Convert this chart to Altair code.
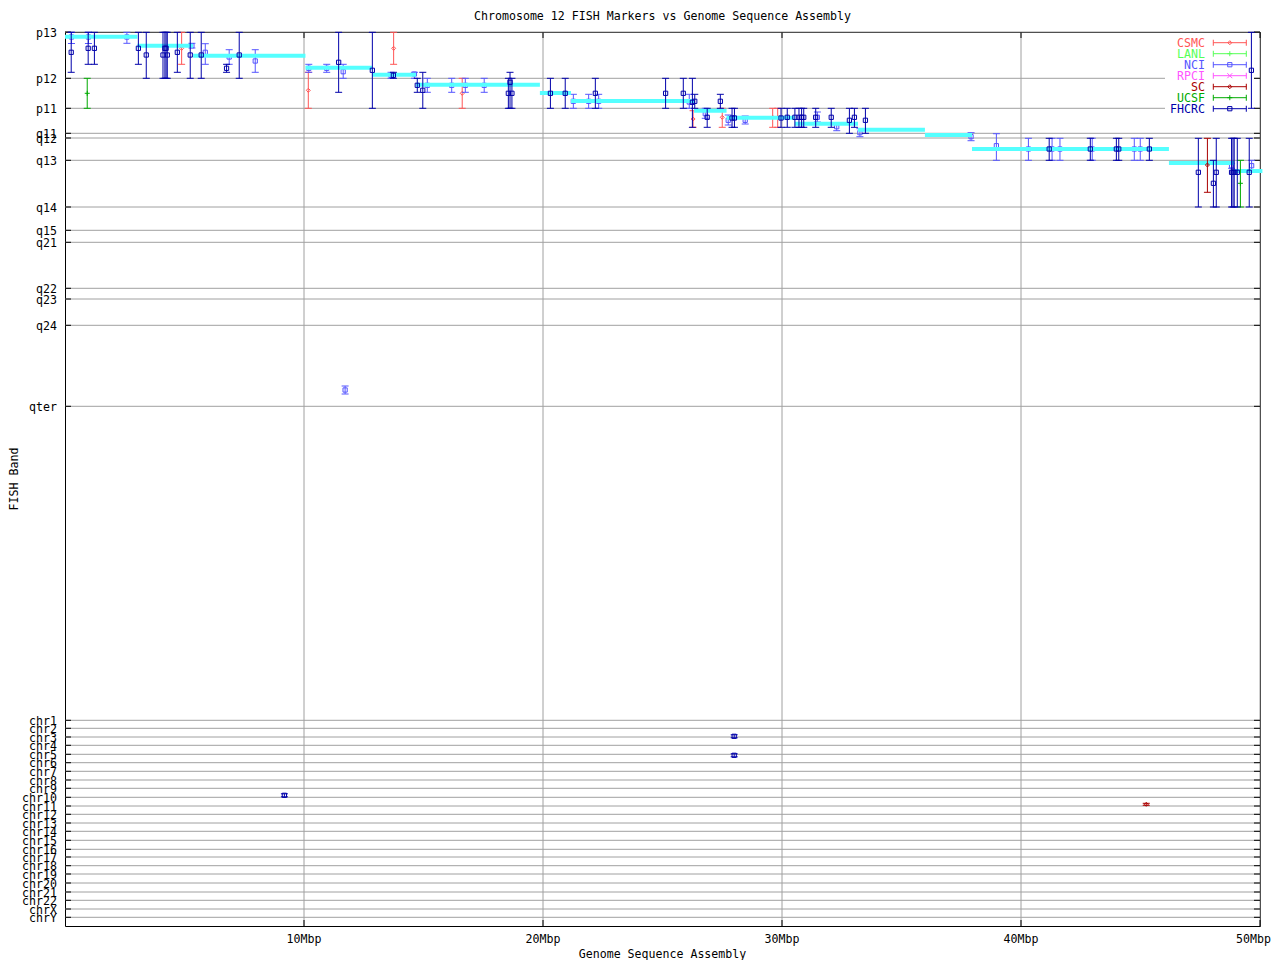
import altair as alt
import pandas as pd

# ---------------- layout constants ----------------
W, H = 1195, 894          # plot area in px
XMAX = 50.0               # Mbp
YMAX = 894.0              # band-coordinate units (0 = pter)
PXM = W / XMAX            # px per Mbp
FONT = "DejaVu Sans Mono"
FS = 11.6
DY = 1.5

TITLE = "Chromosome 12 FISH Markers vs Genome Sequence Assembly"
XTITLE = "Genome Sequence Assembly"
YTITLE = "FISH Band"

# ---------------- series definitions ----------------
LABS = ["CSMC", "LANL", "NCI", "RPCI", "SC", "UCSF", "FHCRC"]
COLORS = ["#ff5555", "#55ff55", "#5555ff", "#ff55ff", "#aa0000", "#00aa00", "#0000aa"]
SHAPES = ["diamond", "M-1,0L1,0M0,-1L0,1", "square", "M-1,-1L1,1M-1,1L1,-1",
          "diamond", "M-1,0L1,0M0,-1L0,1", "square"]
SIZES = [16, 25, 18, 25, 16, 25, 18]

# ---------------- axis tick labels ----------------
BAND_NAMES = ["p13", "p12", "p11", "q11", "q12", "q13", "q14", "q15", "q21", "q22",
              "q23", "q24", "qter",
              "chr1", "chr2", "chr3", "chr4", "chr5", "chr6", "chr7", "chr8", "chr9",
              "chr10", "chr11", "chr12", "chr13", "chr14", "chr15", "chr16", "chr17",
              "chr18", "chr19", "chr20", "chr21", "chr22", "chrX", "chrY"]
BAND_POS = [0, 46.3, 76.3, 101.3, 106, 128.3, 175, 198.3, 210.3, 256.3,
            267, 293.3, 374.3,
            688.3, 696.3, 705, 713.3, 722.3, 730.7, 739.3, 748, 756.3,
            765.3, 774, 782.3, 791, 799.3, 808.3, 817.3, 825,
            833.7, 842, 851, 860, 868.3, 877, 885.3]
X_TICKS = [10, 20, 30, 40, 50]
X_TICK_LABELS = ["10Mbp", "20Mbp", "30Mbp", "40Mbp", "50Mbp"]

# ---------------- assembly (cyan) segments ----------------
SEG_START = [0.0, 3.03, 5.36, 10.06, 12.85, 14.69, 19.87, 21.17, 26.32, 27.68,
             30.54, 33.18, 35.98, 37.95, 46.19, 48.93]
SEG_END = [3.03, 5.36, 10.06, 12.85, 14.69, 19.87, 21.17, 26.32, 27.68, 30.54,
           33.18, 35.98, 37.95, 46.19, 48.93, 50.1]
SEG_BAND = [4.7, 13.7, 23.7, 35.7, 42.7, 52.7, 61, 69, 78.7, 85.7,
            91.7, 97.7, 103, 117, 131, 139]

# ---------------- FISH markers per lab ----------------
CSMC_X = [4.88, 10.18, 13.75, 16.62, 26.28, 27.50, 29.61, 29.82]
CSMC_LO = [0.3, 40.3, 0.3, 46.3, 78.7, 76.3, 76.3, 76.3]
CSMC_HI = [32.3, 76.3, 32.3, 76.3, 95.3, 95.3, 95.3, 95.3]
CSMC_MID = [16.3, 58.3, 16.3, 61.3, 87, 85.3, 85.3, 85.3]

LANL_X, LANL_LO, LANL_HI, LANL_MID = [], [], [], []
RPCI_X, RPCI_LO, RPCI_HI, RPCI_MID = [], [], [], []

NCI_X = [0.27, 0.98, 2.59, 5.31, 5.87, 6.87, 7.96, 10.20, 10.95, 11.64,
         13.64, 14.62, 15.16, 16.18, 16.75, 17.54, 21.27, 21.91, 22.33, 26.12,
         26.79, 27.75, 28.46, 31.48, 32.29, 33.26, 37.91, 38.97, 40.31, 41.30,
         41.63, 42.98, 44.74, 44.99, 48.81, 49.65, 11.72]
NCI_LO = [0.3, 0.3, 0.3, 11.3, 11.7, 17.7, 17.7, 32.3, 32.3, 32.3,
          40.3, 40.3, 46.3, 46.3, 46.3, 46.3, 62.3, 62.3, 62.3, 62.3,
          76.3, 83, 84, 80, 90.7, 96.7, 100.7, 101.7, 106.3, 106.3,
          106.3, 106.3, 106.3, 106.3, 131.3, 128.3, 354]
NCI_HI = [11.5, 11.5, 11.3, 16, 32.3, 32.3, 40.3, 40.3, 40.3, 46.3,
          46.3, 46.3, 60.3, 60.3, 60.3, 60.3, 76.3, 76.3, 76.3, 76.3,
          86.3, 93, 92, 90, 98.7, 104.7, 108.7, 128.3, 128.3, 128.3,
          128.3, 128.3, 128.3, 128.3, 136.3, 138, 362]
NCI_MID = [5, 5, 5, 13.7, 20.3, 25, 29, 36.3, 36.3, 39.7,
           43.3, 42, 53.3, 53.3, 53.3, 53.3, 69.3, 69.3, 69.3, 70,
           81.7, 88.3, 88.3, 85.3, 94.7, 100.7, 104.7, 113.7, 117, 117,
           117, 117, 117, 117, 133.8, 133.7, 358]

SC_X = [47.80, 45.24]
SC_LO = [106.3, 771.3]
SC_HI = [160.3, 773.3]
SC_MID = [133, 772.3]

UCSF_X = [0.93, 49.18]
UCSF_LO = [46.3, 128.3]
UCSF_HI = [76.3, 175]
UCSF_MID = [61.3, 151.3]

FHCRC_X = [0.26, 0.97, 1.23, 3.07, 3.40, 4.10, 4.18, 4.23, 4.28, 4.70,
           5.24, 5.70, 6.76, 7.29, 11.45, 12.86, 13.74, 14.74, 14.97, 18.55,
           18.62, 18.70, 20.31, 20.93, 22.19, 25.13, 25.87, 26.25, 26.35, 26.87,
           27.42, 27.91, 28.01, 29.96, 30.22, 30.54, 30.71, 30.82, 30.91, 31.41,
           32.06, 32.82, 33.03, 33.49, 41.18, 42.90, 43.99, 44.09, 45.37, 47.42,
           48.05, 48.17, 48.81, 48.87, 48.92, 49.05, 49.55, 49.64,
           9.18, 28.0, 28.0]
FHCRC_LO = [0.3, 0.3, 0.3, 0.3, 0.3, 0.3, 0.3, 0.3, 0.3, 0.3,
            0.3, 0.3, 32.3, 0.3, 0.3, 0.3, 40.3, 46.3, 40.3, 46.3,
            40.3, 46.3, 46.3, 46.3, 46.3, 46.3, 46.3, 46.3, 62.3, 76.3,
            62.3, 76.3, 76.3, 76.3, 76.3, 76.3, 76.3, 76.3, 76.3, 76.3,
            76.3, 76.3, 76.3, 76.3, 106.3, 106.3, 106.3, 106.3, 106.3, 106.3,
            128.3, 106.3, 106.3, 106.3, 106.3, 106.3, 106.3, 0.3,
            761.8, 702.8, 721.8]
FHCRC_HI = [40.3, 32.3, 32.3, 32.3, 46.3, 46.3, 46.3, 46.3, 46.3, 40.3,
            46.3, 46.3, 40.3, 46.3, 60.3, 76.3, 46.3, 60.3, 76.3, 76.3,
            76.3, 76.3, 76.3, 76.3, 76.3, 76.3, 76.3, 95.3, 76.3, 95.3,
            76.3, 95.3, 95.3, 95.3, 95.3, 95.3, 95.3, 95.3, 95.3, 95.3,
            95.3, 101.3, 95.3, 101.3, 128.3, 128.3, 128.3, 128.3, 128.3, 175,
            175, 175, 175, 175, 175, 175, 175, 76.3,
            764.8, 705.8, 724.8]
FHCRC_MID = [20.3, 16.3, 16.3, 16.3, 23, 23, 16.3, 16.3, 23, 20.3,
             23, 23, 36.3, 23, 30.3, 38.3, 43.3, 53.3, 58.3, 61.3,
             50.3, 61.3, 61.3, 61.3, 61.3, 61.3, 61.3, 70.3, 69.3, 85.3,
             69.3, 86, 86, 86, 85.3, 85.3, 85.3, 85.3, 85.3, 85.3,
             85.3, 88.3, 85.3, 88.3, 117, 117, 117, 117, 117, 140.3,
             151.3, 140.3, 140.3, 140.3, 140.3, 140.3, 140.3, 38.3,
             763.3, 704.3, 723.3]

SERIES = {
    "CSMC": (CSMC_X, CSMC_LO, CSMC_HI, CSMC_MID),
    "LANL": (LANL_X, LANL_LO, LANL_HI, LANL_MID),
    "NCI": (NCI_X, NCI_LO, NCI_HI, NCI_MID),
    "RPCI": (RPCI_X, RPCI_LO, RPCI_HI, RPCI_MID),
    "SC": (SC_X, SC_LO, SC_HI, SC_MID),
    "UCSF": (UCSF_X, UCSF_LO, UCSF_HI, UCSF_MID),
    "FHCRC": (FHCRC_X, FHCRC_LO, FHCRC_HI, FHCRC_MID),
}

# ---------------- scales ----------------
xs = alt.Scale(domain=[0, XMAX], nice=False, zero=False)
ys = alt.Scale(domain=[0, YMAX], nice=False, zero=False, reverse=True)
cs = alt.Scale(domain=LABS, range=COLORS)


def X(f):
    return alt.X(f, type="quantitative", scale=xs, axis=None)


def Y(f):
    return alt.Y(f, type="quantitative", scale=ys, axis=None)


COL = alt.Color("lab:N", scale=cs, legend=None)

layers = []

# ---------------- grid ----------------
bands_df = pd.DataFrame({"pos": BAND_POS, "name": BAND_NAMES})
xt_df = pd.DataFrame({"v": X_TICKS, "label": X_TICK_LABELS})
one_df = pd.DataFrame({"k": [0]})

layers.append(alt.Chart(bands_df).mark_rule(color="#a0a0a0", strokeWidth=1).encode(
    y=Y("pos"), x=alt.value(0), x2=alt.value(W)))
layers.append(alt.Chart(xt_df).mark_rule(color="#a0a0a0", strokeWidth=1).encode(
    x=X("v"), y=alt.value(0), y2=alt.value(H)))

# legend background (covers grid)
layers.append(alt.Chart(one_df).mark_rect(color="white").encode(
    x=alt.value(1100), x2=alt.value(W - 6), y=alt.value(4), y2=alt.value(80)))

# inward ticks
TK = 6
layers.append(alt.Chart(bands_df).mark_rule(color="black", strokeWidth=1).encode(
    y=Y("pos"), x=alt.value(0), x2=alt.value(TK)))
layers.append(alt.Chart(bands_df).mark_rule(color="black", strokeWidth=1).encode(
    y=Y("pos"), x=alt.value(W - TK), x2=alt.value(W)))
layers.append(alt.Chart(xt_df).mark_rule(color="black", strokeWidth=1).encode(
    x=X("v"), y=alt.value(H - TK), y2=alt.value(H)))
layers.append(alt.Chart(xt_df).mark_rule(color="black", strokeWidth=1).encode(
    x=X("v"), y=alt.value(0), y2=alt.value(TK)))

# tick labels
layers.append(alt.Chart(bands_df).mark_text(
    align="right", baseline="middle", font=FONT, fontSize=FS, color="black", dy=DY).encode(
    y=Y("pos"), x=alt.value(-8), text="name:N"))
xt_inner = xt_df[xt_df["v"] < XMAX]
xt_last = xt_df[xt_df["v"] >= XMAX]
layers.append(alt.Chart(xt_inner).mark_text(
    align="center", baseline="middle", font=FONT, fontSize=FS, color="black", dy=DY).encode(
    x=X("v"), y=alt.value(H + 12), text="label:N"))
# last label kept inside the page edge
layers.append(alt.Chart(xt_last).mark_text(
    align="right", baseline="middle", font=FONT, fontSize=FS, color="black", dx=11, dy=DY).encode(
    x=X("v"), y=alt.value(H + 12), text="label:N"))


# ---------------- error bars ----------------
def lab_df(lab):
    xv, lo, hi, mid = SERIES[lab]
    return pd.DataFrame({"lab": [lab] * len(xv), "x": xv, "lo": lo, "hi": hi, "mid": mid})


def errorbars(lab):
    df = lab_df(lab)
    if df.empty:
        return []
    i = LABS.index(lab)
    base = alt.Chart(df)
    return [
        base.mark_rule(strokeWidth=1).encode(x=X("x"), y=Y("lo"), y2="hi:Q", color=COL),
        base.mark_tick(orient="horizontal", size=7, thickness=1, opacity=1).encode(
            x=X("x"), y=Y("lo"), color=COL),
        base.mark_tick(orient="horizontal", size=7, thickness=1, opacity=1).encode(
            x=X("x"), y=Y("hi"), color=COL),
        base.mark_point(filled=False, strokeWidth=1, opacity=1, shape=SHAPES[i],
                        size=SIZES[i]).encode(x=X("x"), y=Y("mid"), color=COL),
    ]


for lab in ["CSMC", "LANL", "NCI", "RPCI"]:
    layers.extend(errorbars(lab))

seg_df = pd.DataFrame({"x1": SEG_START, "x2": SEG_END, "band": SEG_BAND})
layers.append(alt.Chart(seg_df).mark_rule(color="#55ffff", strokeWidth=4, strokeCap="butt",
                                          clip=False).encode(
    x=X("x1"), x2="x2:Q", y=Y("band")))

for lab in ["SC", "UCSF", "FHCRC"]:
    layers.extend(errorbars(lab))

# ---------------- key ----------------
LEG_TEXT_PX = 1140
LEG_L_PX = 1148.3
LEG_R_PX = 1181.3
LEG_Y0 = 10.7
LEG_DY = 11.0
leg_df = pd.DataFrame({
    "lab": LABS,
    "tx": [LEG_TEXT_PX / PXM] * len(LABS),
    "lx1": [LEG_L_PX / PXM] * len(LABS),
    "lx2": [LEG_R_PX / PXM] * len(LABS),
    "lm": [(LEG_L_PX + LEG_R_PX) / 2 / PXM] * len(LABS),
    "ty": [LEG_Y0 + LEG_DY * k for k in range(len(LABS))],
})
lb = alt.Chart(leg_df)
layers.append(lb.mark_text(align="right", baseline="middle", font=FONT, fontSize=FS, dy=DY).encode(
    x=X("tx"), y=Y("ty"), text="lab:N", color=COL))
layers.append(lb.mark_rule(strokeWidth=1).encode(x=X("lx1"), x2="lx2:Q", y=Y("ty"), color=COL))
layers.append(lb.mark_tick(orient="vertical", size=6, thickness=1, opacity=1).encode(
    x=X("lx1"), y=Y("ty"), color=COL))
layers.append(lb.mark_tick(orient="vertical", size=6, thickness=1, opacity=1).encode(
    x=X("lx2"), y=Y("ty"), color=COL))
for i, lab in enumerate(LABS):
    layers.append(alt.Chart(leg_df[leg_df["lab"] == lab]).mark_point(
        filled=False, strokeWidth=1, opacity=1, shape=SHAPES[i], size=SIZES[i]).encode(
        x=X("lm"), y=Y("ty"), color=COL))

# ---------------- titles ----------------
layers.append(alt.Chart(pd.DataFrame({"t": [TITLE]})).mark_text(
    align="center", baseline="middle", font=FONT, fontSize=FS, color="black").encode(
    x=alt.value(W / 2), y=alt.value(-15), text="t:N"))
layers.append(alt.Chart(pd.DataFrame({"t": [XTITLE]})).mark_text(
    align="center", baseline="middle", font=FONT, fontSize=FS, color="black").encode(
    x=alt.value(W / 2), y=alt.value(H + 29), text="t:N"))
layers.append(alt.Chart(pd.DataFrame({"t": [YTITLE]})).mark_text(
    align="center", baseline="middle", font=FONT, fontSize=FS, color="black", angle=270).encode(
    x=alt.value(-50), y=alt.value(H / 2), text="t:N"))

chart = alt.layer(*layers).properties(
    width=W, height=H,
    autosize=alt.AutoSizeParams(type="none"),
    padding={"left": 57, "top": 24, "right": 12, "bottom": 34},
).configure_view(stroke="black", strokeWidth=1)

chart.save("out.html", embed_options={"renderer": "svg", "actions": False})
